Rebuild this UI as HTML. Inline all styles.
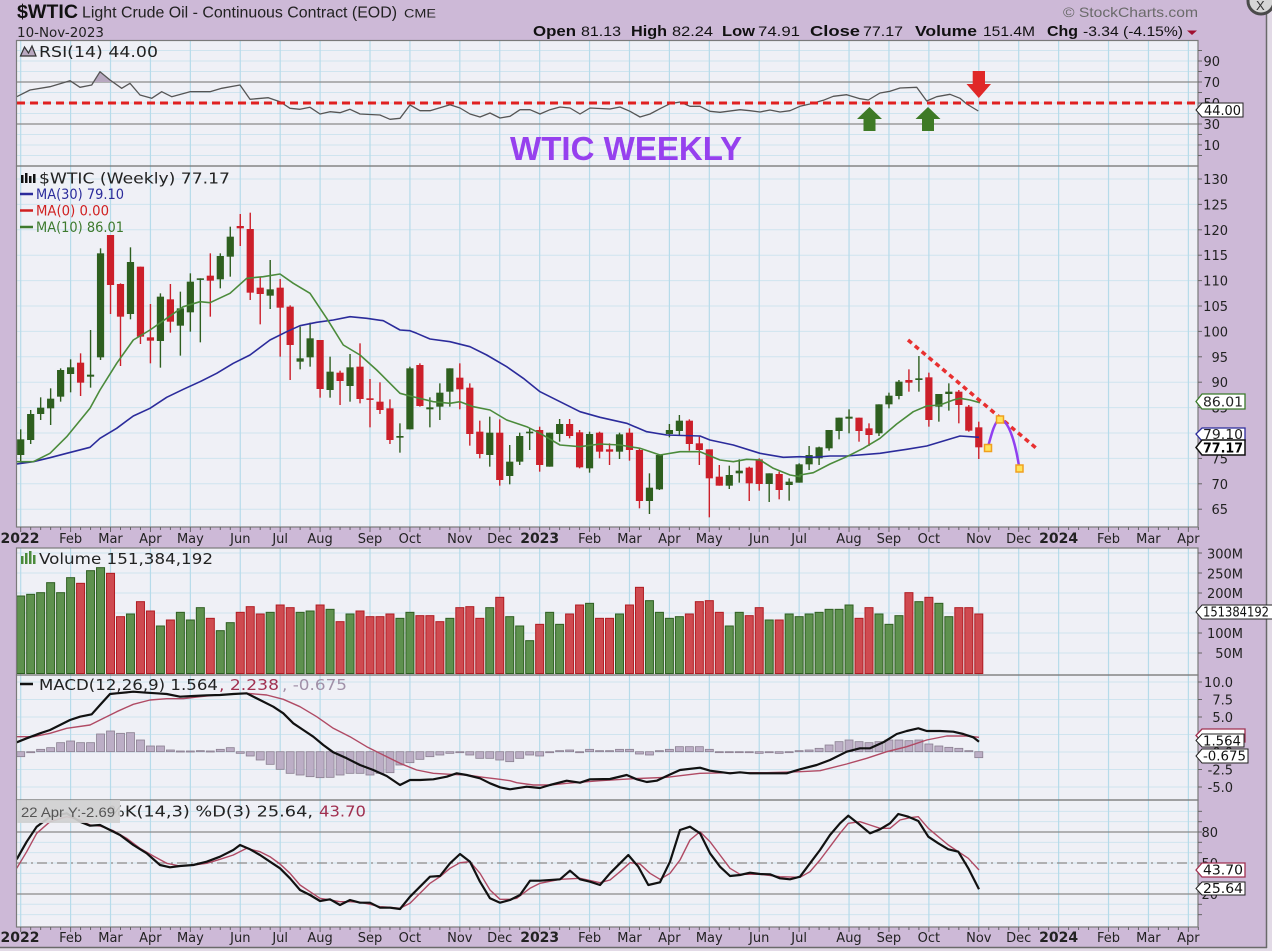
<!DOCTYPE html>
<html><head><meta charset="utf-8">
<style>
html,body{margin:0;padding:0;background:#cdb9d7;overflow:hidden;}
svg{display:block}
.d{font-family:"DejaVu Sans","Liberation Sans",sans-serif;}
.l{font-family:"Liberation Sans",sans-serif;}
</style></head>
<body>
<svg id="c" width="1272" height="951" viewBox="0 0 1272 951" xmlns="http://www.w3.org/2000/svg">
<defs><clipPath id="pc"><rect x="17" y="41" width="1181" height="886"/></clipPath></defs>
<rect width="1272" height="951" fill="#cdb9d7"/>
<rect x="1267" y="0" width="5" height="951" fill="#e2dae6"/>
<rect x="0" y="948" width="1272" height="3" fill="#e2dae6"/>
<line x1="1266.5" y1="14" x2="1266.5" y2="948" stroke="#6a6a6a" stroke-width="1.5"/>
<line x1="0" y1="947.5" x2="1267" y2="947.5" stroke="#6a6a6a" stroke-width="1.5"/>
<circle cx="1261" cy="1" r="13" fill="#d6d6d6" stroke="#4a4a4a" stroke-width="3"/>
<text x="1256" y="10" class="l" font-size="13" fill="#333">X</text>

<!-- panel backgrounds -->
<g fill="#eff0f6">
<rect x="17" y="41" width="1181" height="125"/>
<rect x="17" y="166" width="1181" height="361"/>
<rect x="17" y="548" width="1181" height="127"/>
<rect x="17" y="675" width="1181" height="125"/>
<rect x="17" y="800" width="1181" height="127"/>
</g>
<g id="grid"></g>

<!-- reference lines -->
<g stroke="#8a8a8a" stroke-width="1.3">
<line x1="17" x2="1198" y1="82" y2="82"/>
<line x1="17" x2="1198" y1="124" y2="124"/>
<line x1="17" x2="1198" y1="832" y2="832"/>
<line x1="17" x2="1198" y1="894" y2="894"/>
<line x1="17" x2="1198" y1="863" y2="863" stroke-dasharray="10,4,2,4"/>
</g>

<g id="data" clip-path="url(#pc)"></g>

<!-- panel borders -->
<g fill="none" stroke="#7a7a7a" stroke-width="1.2">
<rect x="16.5" y="40.5" width="1181.5" height="125.5"/>
<rect x="16.5" y="166" width="1181.5" height="361"/>
<rect x="16.5" y="548" width="1181.5" height="127"/>
<rect x="16.5" y="675" width="1181.5" height="125"/>
<rect x="16.5" y="800" width="1181.5" height="127"/>
</g>
<g id="ticks"></g>

<!-- annotations -->
<line x1="17" x2="1198" y1="103" y2="103" stroke="#e02020" stroke-width="3" stroke-dasharray="8,5"/>
<line x1="908" y1="340" x2="1036" y2="448" stroke="#e83030" stroke-width="3.5" stroke-dasharray="5,4"/>
<path d="M987.7,448 C992,432 995,421 999.5,419.5 C1008,419 1015,440 1019.3,468" fill="none" stroke="#9040f0" stroke-width="2.5"/>
<g fill="#ffe45a" stroke="#f0a020" stroke-width="1.5">
<rect x="984.5" y="444.5" width="7" height="7"/>
<rect x="996.5" y="416" width="7" height="7"/>
<rect x="1016" y="465" width="7" height="7"/>
</g>
<path d="M869.5,107 L882,119 L875.5,119 L875.5,131 L863.5,131 L863.5,119 L857,119 Z" fill="#3e7a26"/>
<path d="M928,107 L940.5,119 L934,119 L934,131 L922,131 L922,119 L915.5,119 Z" fill="#3e7a26"/>
<path d="M972.7,71 L985,71 L985,84 L991,84 L978.8,98 L966.5,84 L972.7,84 Z" fill="#e02828"/>
<text x="510" y="160" class="l" font-size="33" font-weight="bold" fill="#9640ee" textLength="232" lengthAdjust="spacingAndGlyphs">WTIC WEEKLY</text>

<!-- header -->
<text x="17" y="18" class="l" font-size="19" font-weight="bold" fill="#111" textLength="61" lengthAdjust="spacingAndGlyphs">$WTIC</text>
<text x="82" y="17.5" class="l" font-size="15.5" fill="#222" textLength="315" lengthAdjust="spacingAndGlyphs">Light Crude Oil - Continuous Contract (EOD)</text>
<text x="404" y="17.5" class="l" font-size="12" fill="#222" textLength="32" lengthAdjust="spacingAndGlyphs">CME</text>
<text x="17" y="37" class="d" font-size="13" fill="#222" textLength="87" lengthAdjust="spacingAndGlyphs">10-Nov-2023</text>
<text x="1063" y="17" class="l" font-size="14" fill="#6a6a6a" textLength="135" lengthAdjust="spacingAndGlyphs">© StockCharts.com</text>
<g class="l" fill="#111">
<text x="533" y="36" font-size="15" font-weight="bold" textLength="43" lengthAdjust="spacingAndGlyphs">Open</text>
<text x="581" y="36" font-size="14" textLength="40" lengthAdjust="spacingAndGlyphs">81.13</text>
<text x="631" y="36" font-size="15" font-weight="bold" textLength="36" lengthAdjust="spacingAndGlyphs">High</text>
<text x="672" y="36" font-size="14" textLength="41" lengthAdjust="spacingAndGlyphs">82.24</text>
<text x="722" y="36" font-size="15" font-weight="bold" textLength="33" lengthAdjust="spacingAndGlyphs">Low</text>
<text x="758" y="36" font-size="14" textLength="42" lengthAdjust="spacingAndGlyphs">74.91</text>
<text x="810" y="36" font-size="15" font-weight="bold" textLength="50" lengthAdjust="spacingAndGlyphs">Close</text>
<text x="863" y="36" font-size="14" textLength="40" lengthAdjust="spacingAndGlyphs">77.17</text>
<text x="915" y="36" font-size="15" font-weight="bold" textLength="62" lengthAdjust="spacingAndGlyphs">Volume</text>
<text x="983" y="36" font-size="14" textLength="52" lengthAdjust="spacingAndGlyphs">151.4M</text>
<text x="1047" y="36" font-size="15" font-weight="bold" textLength="31" lengthAdjust="spacingAndGlyphs">Chg</text>
<text x="1083" y="36" font-size="14" textLength="100" lengthAdjust="spacingAndGlyphs">-3.34 (-4.15%)</text>
</g>
<polygon points="1187,30.5 1197,30.5 1192,35" fill="#a01030"/>

<!-- legends -->
<path d="M20.5,56 L24.5,47 L28.5,53 L32,46 L36,56 Z" fill="#b8a8c0" stroke="#333" stroke-width="1.2"/>
<text x="39" y="57" class="d" font-size="15" fill="#222" textLength="119" lengthAdjust="spacingAndGlyphs">RSI(14) 44.00</text>
<g fill="#111"><rect x="21" y="175" width="2.5" height="8"/><rect x="25" y="173" width="2.5" height="10"/><rect x="29" y="176" width="2.5" height="7"/><rect x="33" y="174" width="2.5" height="9"/></g>
<text x="39" y="183.5" class="d" font-size="15" fill="#222" textLength="191" lengthAdjust="spacingAndGlyphs">$WTIC (Weekly) 77.17</text>
<line x1="20" x2="33" y1="194" y2="194" stroke="#2b2b9b" stroke-width="2.5"/>
<text x="36" y="199" class="d" font-size="14" fill="#2b2b9b" textLength="88" lengthAdjust="spacingAndGlyphs">MA(30) 79.10</text>
<line x1="20" x2="33" y1="210.5" y2="210.5" stroke="#d02020" stroke-width="2.5"/>
<text x="36" y="215.5" class="d" font-size="14" fill="#d02020" textLength="73" lengthAdjust="spacingAndGlyphs">MA(0) 0.00</text>
<line x1="20" x2="33" y1="227" y2="227" stroke="#3d7a2d" stroke-width="2.5"/>
<text x="36" y="232" class="d" font-size="14" fill="#3d7a2d" textLength="88" lengthAdjust="spacingAndGlyphs">MA(10) 86.01</text>
<g fill="#4a8a3a"><rect x="21" y="556" width="2.5" height="8"/><rect x="25" y="553" width="2.5" height="11"/><rect x="29" y="551" width="2.5" height="13"/><rect x="33" y="555" width="2.5" height="9"/></g>
<text x="39" y="564" class="d" font-size="15" fill="#222" textLength="174" lengthAdjust="spacingAndGlyphs">Volume 151,384,192</text>
<line x1="20" x2="33" y1="684" y2="684" stroke="#111" stroke-width="2.5"/>
<text x="39" y="690" class="d" font-size="15" fill="#222" textLength="179" lengthAdjust="spacingAndGlyphs">MACD(12,26,9) 1.564</text>
<text x="219" y="690" class="d" font-size="15" fill="#a03050" textLength="60" lengthAdjust="spacingAndGlyphs">, 2.238</text>
<text x="282" y="690" class="d" font-size="15" fill="#a090a8" textLength="65" lengthAdjust="spacingAndGlyphs">, -0.675</text>
<text x="108" y="816.5" class="d" font-size="15" fill="#222" textLength="205" lengthAdjust="spacingAndGlyphs">%K(14,3) %D(3) 25.64,</text>
<text x="319" y="816.5" class="d" font-size="15" fill="#a03050" textLength="47" lengthAdjust="spacingAndGlyphs">43.70</text>
<rect x="17" y="800" width="103" height="23" fill="#d0d0d0" fill-opacity="0.92"/>
<text x="21" y="817" class="l" font-size="14" fill="#555" textLength="94" lengthAdjust="spacingAndGlyphs">22 Apr Y:-2.69</text>

<!-- axis labels -->
<g class="d" font-size="13" fill="#222" text-anchor="end">
<text x="1220" y="66">90</text><text x="1220" y="87">70</text><text x="1220" y="108">50</text><text x="1220" y="129">30</text><text x="1220" y="150">10</text>
<text x="1228" y="184">130</text><text x="1228" y="209.4">125</text><text x="1228" y="234.8">120</text><text x="1228" y="260.2">115</text><text x="1228" y="285.6">110</text><text x="1228" y="311">105</text><text x="1228" y="336.4">100</text><text x="1228" y="361.8">95</text><text x="1228" y="387.2">90</text><text x="1228" y="412.6">85</text><text x="1228" y="438">80</text><text x="1228" y="463.4">75</text><text x="1228" y="488.8">70</text><text x="1228" y="514.2">65</text>
<text x="1243" y="558.5">300M</text><text x="1243" y="578.5">250M</text><text x="1243" y="598">200M</text><text x="1243" y="638">100M</text><text x="1243" y="658">50M</text>
<text x="1233" y="687">10.0</text><text x="1233" y="704.5">7.5</text><text x="1233" y="722">5.0</text><text x="1233" y="739.5">2.5</text><text x="1233" y="757">0.0</text><text x="1233" y="774.5">-2.5</text><text x="1233" y="792">-5.0</text>
<text x="1218" y="837">80</text><text x="1218" y="868">50</text><text x="1218" y="899">20</text>
</g>

<!-- value tags -->
<g class="d" font-size="13">
<path d="M1196,110 L1202,103 L1243,103 L1243,117 L1202,117 Z" fill="#fff" stroke="#222"/>
<text x="1204" y="115" fill="#111" textLength="37" lengthAdjust="spacingAndGlyphs">44.00</text>
<path d="M1196,401.5 L1202,394 L1245,394 L1245,409 L1202,409 Z" fill="#fff" stroke="#3a7a2a" stroke-width="1.3"/>
<text x="1203" y="406.5" fill="#222" textLength="40" lengthAdjust="spacingAndGlyphs">86.01</text>
<path d="M1196,434 L1202,428 L1245,428 L1245,441 L1202,441 Z" fill="#fff" stroke="#2b2b9b" stroke-width="1.3"/>
<text x="1203" y="439" fill="#222" textLength="40" lengthAdjust="spacingAndGlyphs">79.10</text>
<path d="M1196,447.5 L1202,440 L1245,440 L1245,455 L1202,455 Z" fill="#fff" stroke="#111" stroke-width="1.5"/>
<text x="1203" y="452.5" fill="#000" font-weight="bold" textLength="40" lengthAdjust="spacingAndGlyphs">77.17</text>
<path d="M1196,612 L1202,605 L1274,605 L1274,619 L1202,619 Z" fill="#fff" stroke="#222"/>
<text x="1203" y="616.5" fill="#111" textLength="66" lengthAdjust="spacingAndGlyphs">151384192</text>
<path d="M1196,735.5 L1202,729 L1245,729 L1245,742 L1202,742 Z" fill="#fff" stroke="#a03050" stroke-width="1.3"/>
<path d="M1196,740.5 L1202,734 L1244,734 L1244,747 L1202,747 Z" fill="#fff" stroke="#222"/>
<text x="1203" y="745.5" fill="#111" textLength="38" lengthAdjust="spacingAndGlyphs">1.564</text>
<path d="M1196,756 L1202,749 L1248,749 L1248,763 L1202,763 Z" fill="#fff" stroke="#222"/>
<text x="1203" y="760.5" fill="#111" textLength="43" lengthAdjust="spacingAndGlyphs">-0.675</text>
<path d="M1196,870 L1202,863 L1245,863 L1245,877 L1202,877 Z" fill="#fff" stroke="#a03050" stroke-width="1.3"/>
<text x="1203" y="874.5" fill="#111" textLength="40" lengthAdjust="spacingAndGlyphs">43.70</text>
<path d="M1196,888.5 L1202,882 L1245,882 L1245,895 L1202,895 Z" fill="#fff" stroke="#222"/>
<text x="1203" y="893" fill="#111" textLength="40" lengthAdjust="spacingAndGlyphs">25.64</text>
</g>

<!-- x axis labels -->
<g class="d" font-size="13" fill="#222" text-anchor="middle">
<text x="20" y="543" font-weight="bold" font-size="14">2022</text><text x="70.6" y="543">Feb</text><text x="110.5" y="543">Mar</text><text x="150.4" y="543">Apr</text><text x="190.4" y="543">May</text><text x="240.3" y="543">Jun</text><text x="280.2" y="543">Jul</text><text x="320.1" y="543">Aug</text><text x="370" y="543">Sep</text><text x="409.9" y="543">Oct</text><text x="459.8" y="543">Nov</text><text x="499.7" y="543">Dec</text><text x="539.7" y="543" font-weight="bold" font-size="14">2023</text><text x="589.6" y="543">Feb</text><text x="629.5" y="543">Mar</text><text x="669.4" y="543">Apr</text><text x="709.3" y="543">May</text><text x="759.2" y="543">Jun</text><text x="799.1" y="543">Jul</text><text x="849" y="543">Aug</text><text x="888.9" y="543">Sep</text><text x="928.9" y="543">Oct</text><text x="978.8" y="543">Nov</text><text x="1018.7" y="543">Dec</text><text x="1058.6" y="543" font-weight="bold" font-size="14">2024</text><text x="1108.5" y="543">Feb</text><text x="1148.4" y="543">Mar</text><text x="1188.4" y="543">Apr</text>
<text x="20" y="942" font-weight="bold" font-size="14">2022</text><text x="70.6" y="942">Feb</text><text x="110.5" y="942">Mar</text><text x="150.4" y="942">Apr</text><text x="190.4" y="942">May</text><text x="240.3" y="942">Jun</text><text x="280.2" y="942">Jul</text><text x="320.1" y="942">Aug</text><text x="370" y="942">Sep</text><text x="409.9" y="942">Oct</text><text x="459.8" y="942">Nov</text><text x="499.7" y="942">Dec</text><text x="539.7" y="942" font-weight="bold" font-size="14">2023</text><text x="589.6" y="942">Feb</text><text x="629.5" y="942">Mar</text><text x="669.4" y="942">Apr</text><text x="709.3" y="942">May</text><text x="759.2" y="942">Jun</text><text x="799.1" y="942">Jul</text><text x="849" y="942">Aug</text><text x="888.9" y="942">Sep</text><text x="928.9" y="942">Oct</text><text x="978.8" y="942">Nov</text><text x="1018.7" y="942">Dec</text><text x="1058.6" y="942" font-weight="bold" font-size="14">2024</text><text x="1108.5" y="942">Feb</text><text x="1148.4" y="942">Mar</text><text x="1188.4" y="942">Apr</text>
</g>
</svg>
<script>
(function(){
var NS="http://www.w3.org/2000/svg";
function el(t,a,p){var e=document.createElementNS(NS,t);for(var k in a)e.setAttribute(k,a[k]);p.appendChild(e);return e;}
function X(i){return 20.7+i*9.98;}
var g=document.getElementById('grid'),d=document.getElementById('data'),tk=document.getElementById('ticks');
var months=[0,5,9,13,17,22,26,30,35,39,44,48,52,57,61,65,69,74,78,83,87,91,96,100,104,109,113,117];
var panels=[[41,166],[166,527],[548,675],[675,800],[800,927]];
var hy=[],v;
for(v=0;v<=100;v+=10)hy.push(82+(70-v)*1.05);
for(v=65;v<=130;v+=5)hy.push(179+(130-v)*5.08);
for(v=50;v<=300;v+=50)hy.push(673-v*0.4);
for(v=-5;v<=10;v+=2.5)hy.push(752-v*7);
for(v=0;v<=100;v+=10)hy.push(832+(80-v)*1.033);
hy.forEach(function(y){el('line',{x1:17,x2:1198,y1:y,y2:y,stroke:'#cfe4ef','stroke-width':1},g);});
panels.forEach(function(p){months.forEach(function(m){el('line',{x1:X(m),x2:X(m),y1:p[0],y2:p[1],stroke:'#b6dbea','stroke-width':1.2},g);});});
// x ticks
[527,927].forEach(function(y0){for(var i=0;i<=118;i++){var m=months.indexOf(i)>=0;el('line',{x1:X(i),x2:X(i),y1:y0,y2:y0+(m?5:3),stroke:'#666','stroke-width':1},tk);}});
// right ticks
hy.forEach(function(y){el('line',{x1:1198,x2:1202,y1:y,y2:y,stroke:'#666','stroke-width':1},tk);});

// volume
var vol=[['G',168],['G',163],['G',158],['G',128],['G',158],['G',113],['R',130],['G',92],['G',83],['R',100],['R',230],['G',222],['R',185],['R',213],['G',258],['R',240],['G',217],['G',240],['G',203],['R',235],['G',272],['G',248],['R',217],['R',200],['R',222],['G',217],['R',195],['R',203],['G',217],['G',213],['R',195],['G',208],['R',245],['G',222],['R',213],['R',230],['R',230],['R',222],['G',235],['G',217],['R',227],['R',227],['R',245],['G',235],['R',203],['R',200],['R',235],['G',203],
['R',172],['G',230],['G',258],['G',302],['R',253],['G',217],['G',253],['R',222],['R',195],['G',190],['R',235],['R',235],['G',222],['R',195],['R',142],['G',182],['G',217],['G',235],['G',230],['R',222],['R',185],['R',182],['R',217],['G',258],['G',217],['R',227],['R',203],['G',240],['R',240],['G',222],['G',230],['G',222],['G',217],['G',208],['G',208],['G',195],['R',235],['R',203],['G',222],['G',253],['G',227],['R',158],['G',185],['R',172],['G',190],['G',230],['R',203],['R',203],['R',222]];
vol.forEach(function(b,i){var t=540+b[1]/3;el('rect',{x:X(i)-4,y:t,width:8,height:673.5-t,fill:b[0]=='G'?'#5e914e':'#cf4a50',stroke:b[0]=='G'?'#2f5f22':'#b01c22','stroke-width':1},d);});

// macd hist
var hist=[650,638,628,623,608,603,608,608,582,573,580,578,600,618,618,630,633,633,632,633,628,623,640,648,660,673,688,700,705,710,713,712,705,700,700,705,700,698,675,668,658,650,645,640,637,645,655,655,660,665,
655,645,648,638,632,630,637,628,632,632,628,628,642,645,632,628,620,620,620,628,635,635,635,637,640,637,640,635,632,630,625,615,605,600,605,608,605,600,600,602,600,612,618,622,625,632,653];
hist.forEach(function(h,i){var y=540+h/3,z=751.7;var t=Math.min(y,z),hh=Math.max(Math.abs(y-z),1);el('rect',{x:X(i)-4,y:t,width:8,height:hh,fill:'#bcaec6',stroke:'#8a7f90','stroke-width':0.8},d);});

function pts(groups){var s=[];groups.forEach(function(gr){var ox=gr[0],oy=gr[1];gr[2].forEach(function(p){s.push((ox+p[0]/3).toFixed(1)+','+(oy+p[1]/3).toFixed(1));});});return s.join(' ');}
function line(groups,col,w){el('polyline',{points:pts(groups),fill:'none',stroke:col,'stroke-width':w,'stroke-linejoin':'round'},d);}

// RSI fill above 70
el('polygon',{points:'94,82 100,71.7 110,80 113.5,82',fill:'#b8a8c0'},d);
line([[0,0,[[50,290],[90,270],[150,260],[210,242],[240,262],[275,255],[300,215],[330,240],[365,265],[390,250],[420,285],[455,295],[485,275],[515,290],[570,275],[630,275],[665,265],[720,255],[750,298],[805,293],[840,305],[870,325],[900,328],[930,322],[960,342],[990,335],[1020,338],[1050,328],[1080,342],[1140,345],[1170,358],[1200,355],[1230,315]]],
[380,38,[[120,218],[150,218],[210,200],[240,210],[270,228],[300,237],[330,225],[360,240],[390,235],[420,215],[450,215],[480,228],[510,215],[540,207],[570,210],[600,228],[630,210],[690,213],[720,207],[750,220],[780,237],[810,228],[840,212],[870,197],[900,192],[930,205],[960,205],[990,220],[1020,223],[1080,215],[1110,218],[1140,222],[1170,216],[1200,222],[1230,218],[1260,205],[1290,198],[1330,187],[1360,175],[1400,170],[1440,182],[1465,186],[1500,165],[1530,160],[1560,150]]],
[850,0,[[200,262],[230,303],[260,290],[300,283],[330,295],[350,312],[385,333]]]],'#555',1.3);

// candles
var c5=[['G',838,885,808,908],['G',762,840,750,852],['G',743,762,712,780],['G',716,745,685,795],['G',630,710,625,725],['G',622,642,598,697],['R',608,668,580,708],['G',644,650,510,683],['G',280,592,265,600],['R',225,375,225,462],['R',372,470,370,618],['G',306,462,262,478],['R',320,530,320,552],['R',532,542,432,610],['G',410,543,400,623],['R',418,485,372,518],['G',445,497,395,587],['G',365,457,340,515],['G',355,357,355,547],['R',347,362,280,470],['G',288,358,280,385],['G',230,290,200,350],['R',198,205,162,258],['R',207,398,158,420],['R',383,402,350,493],['G',388,407,300,447],['R',383,443,357,590],['R',440,555,436,660],['G',595,605,500,628],['G',535,592,488,620],['R',540,687,540,713],['G',635,690,590,713],['R',638,663,632,735],['G',622,678,582,725],['R',620,717,550,730],['R',715,718,657,802],['R',725,750,667,762],['R',745,840,718,852],['G',828,833,790,878],['G',625,808,620,808]];
var c6=[['R',195,318,190,320],['G',322,328,292,382],['G',278,320,250,360],['G',205,275,205,320],['R',233,268,190,328],['R',263,402,250,437],['R',395,462,362,475],['G',398,465,350,500],['R',398,540,358,557],['G',485,528,435,553],['G',408,485,398,495],['G',395,400,385,450],['R',390,495,380,515],['G',398,500,398,500],['G',372,402,357,425],['R',372,408,357,415],['R',397,502,390,505],['G',402,505,395,518],['R',398,455,395,475],['R',448,455,430,495],['G',403,455,398,477],['R',398,450,385,482],['R',450,603,445,625],['G',563,603,520,642],['G',465,568,462,570],['G',390,402,372,412],['G',362,393,345,405],['R',362,432,358,452],['R',430,450,410,495],['R',448,535,448,652],['R',530,557,495,557],['G',525,557,497,567],['G',512,520,478,548],['R',503,550,500,603],['R',478,552,475,572],['G',520,552,520,606],['R',522,570,515,598],['G',545,555,535,602],['G',493,548,490,548],['G',465,493,438,510]];
var c7=[['G',382,415,380,435],['G',330,385,330,392],['G',293,333,293,358],['G',290,296,268,340],['R',293,333,293,365],['R',325,345,310,378],['G',253,340,253,348],['G',227,253,218,265],['G',185,228,180,238],['R',180,188,148,215],['G',175,180,108,215],['R',172,300,158,320],['G',222,260,222,305],['G',215,222,190,272],['R',215,255,210,310],['R',260,332,255,335],['R',322,382,305,417]];
function candles(arr,start,oy){arr.forEach(function(c,k){var i=start+k,x=X(i),col=c[0]=='G'?'#2e5f1f':'#cc1f2a';
var bt=oy+c[1]/3,bb=oy+c[2]/3,h=oy+c[3]/3,l=oy+c[4]/3;
el('line',{x1:x,x2:x,y1:h,y2:l,stroke:col,'stroke-width':1.4},d);
el('rect',{x:x-3.6,y:bt,width:7.2,height:Math.max(bb-bt,1.6),fill:col},d);});}
candles(c5,0,160);candles(c6,40,300);candles(c7,80,320);

// MAs
line([[0,160,[[50,912],[100,905],[150,893],[200,880],[270,862],[300,835],[350,805],[400,768],[450,745],[500,712],[550,688],[600,665],[650,640],[700,610],[750,585],[810,540],[860,515],[900,497],[950,487],[1000,480],[1050,470],[1100,475],[1150,482],[1200,510]]],
[400,300,[[30,92],[50,100],[90,117],[150,125],[210,140],[260,165],[320,200],[370,235],[420,275],[480,305],[540,335],[600,352],[680,370],[740,395],[800,405],[900,408],[930,420],[1000,435],[1080,460],[1150,472],[1200,470]]],
[780,320,[[60,410],[100,412],[150,408],[200,408],[300,400],[380,388],[440,378],[500,360],[540,348],[597,352]]]],'#2b2b9b',1.6);
line([[0,160,[[50,905],[100,905],[150,880],[200,830],[270,745],[300,690],[350,610],[400,540],[450,510],[500,475],[550,440],[600,425],[630,428],[690,400],[740,355],[790,350],[840,342],[880,370],[930,400],[980,475],[1030,555],[1080,585],[1130,630],[1200,700]]],
[400,300,[[30,288],[100,305],[150,310],[180,305],[220,320],[270,330],[320,360],[380,380],[420,400],[480,435],[540,440],[600,432],[660,435],[720,445],[780,465],[840,455],[900,455],[960,480],[1000,485],[1040,478],[1080,480],[1120,505],[1170,525],[1200,530]]],
[780,320,[[60,465],[100,458],[150,432],[200,410],[250,385],[300,355],[350,312],[400,275],[440,258],[480,255],[520,240],[540,235],[570,240],[600,248]]]],'#4b8b3b',1.6);

// MACD
line([[0,540,[[50,590],[100,590],[150,580],[200,565],[270,555],[300,540],[350,515],[400,493],[450,480],[500,476],[550,476],[600,470],[650,465],[700,462],[740,460],[800,465],[850,478],[900,500],[950,530],[1000,565],[1050,590],[1100,620],[1150,645],[1200,670],[1250,690],[1300,700],[1350,703],[1400,705],[1450,712],[1500,718]]],
[500,540,[[30,722],[50,728],[100,735],[150,735],[200,730],[300,722],[400,716],[500,712],[600,700],[700,698],[800,698],[900,695],[960,692],[1040,672],[1100,655],[1160,635],[1220,620],[1280,600],[1340,588],[1400,588],[1437,592]]]],'#b04a64',1.4);
line([[0,540,[[50,607],[80,595],[120,580],[150,570],[180,555],[210,540],[240,530],[275,523],[300,495],[330,462],[350,460],[400,455],[440,458],[470,460],[500,462],[540,470],[580,468],[620,466],[660,465],[700,462],[740,460],[780,480],[820,500],[850,520],[880,550],[910,570],[940,590],[970,615],[1000,637],[1040,655],[1080,675],[1120,690],[1160,708],[1200,735],[1230,720],[1260,720],[1300,718],[1340,710],[1370,700],[1400,705],[1440,715],[1470,730],[1500,742]]],
[500,540,[[30,748],[80,740],[120,744],[150,735],[200,722],[240,728],[270,718],[330,717],[380,705],[410,718],[440,726],[470,722],[500,708],[540,690],[600,683],[630,692],[690,700],[720,697],[750,700],[800,700],[860,700],[900,688],[950,675],[990,660],[1040,635],[1080,625],[1110,625],[1150,607],[1190,582],[1220,573],[1255,565],[1280,573],[1320,573],[1360,575],[1390,582],[1420,592],[1437,605]]]],'#111',2.2);

// Stoch
line([[0,540,[[50,985],[80,935],[110,880],[150,845],[200,830],[240,840],[270,855],[300,858],[340,872],[380,895],[420,925],[460,948],[500,970],[540,978],[580,975],[620,970],[660,958],[700,945],[740,925],[780,935],[810,950],[840,972],[870,1000],[900,1035],[930,1055],[960,1075],[990,1080],[1020,1085],[1050,1085],[1080,1087],[1110,1093],[1140,1100],[1170,1102],[1200,1105],[1230,1090],[1260,1060],[1290,1030],[1320,1010],[1350,985],[1380,968],[1410,965],[1440,1000],[1470,1050],[1500,1078]]],
[500,540,[[30,1078],[50,1075],[90,1045],[120,1030],[180,1018],[240,1015],[300,1028],[330,1020],[360,995],[390,968],[420,972],[450,1000],[480,1018],[510,1000],[540,960],[570,900],[600,875],[630,905],[660,945],[690,985],[720,1003],[780,1003],[840,1010],[900,1012],[930,995],[960,960],[990,920],[1020,880],[1045,850],[1080,845],[1110,855],[1140,865],[1170,865],[1200,840],[1230,833],[1255,830],[1285,865],[1315,890],[1345,915],[1375,935],[1405,955],[1437,990]]]],'#b04a64',1.4);
line([[0,540,[[50,958],[80,905],[110,860],[150,830],[200,820],[240,845],[270,857],[300,855],[330,870],[360,885],[400,915],[440,940],[480,975],[510,982],[540,978],[580,975],[620,965],[660,950],[700,930],[720,915],[750,928],[780,945],[810,965],[840,985],[870,1015],[900,1050],[930,1065],[960,1083],[990,1078],[1020,1095],[1050,1080],[1080,1088],[1110,1088],[1140,1103],[1170,1103],[1200,1107],[1230,1070],[1260,1040],[1290,1010],[1320,1008],[1350,970],[1380,942],[1410,965],[1440,1025],[1470,1075],[1500,1088]]],
[500,540,[[30,1080],[60,1065],[90,1022],[120,1022],[180,1018],[210,992],[240,1018],[270,1025],[300,1035],[330,1000],[360,970],[385,945],[415,980],[445,1035],[480,1027],[510,965],[540,870],[570,860],[600,880],[630,940],[660,980],[690,1008],[720,1005],[750,998],[780,1002],[810,1003],[840,1015],[870,1018],[900,1010],[930,970],[960,930],[990,885],[1020,850],[1045,827],[1080,855],[1110,880],[1140,868],[1170,850],[1195,822],[1225,830],[1255,843],[1285,890],[1315,910],[1345,928],[1375,935],[1405,985],[1437,1048]]]],'#111',2.2);
})();
</script>
</body></html>
